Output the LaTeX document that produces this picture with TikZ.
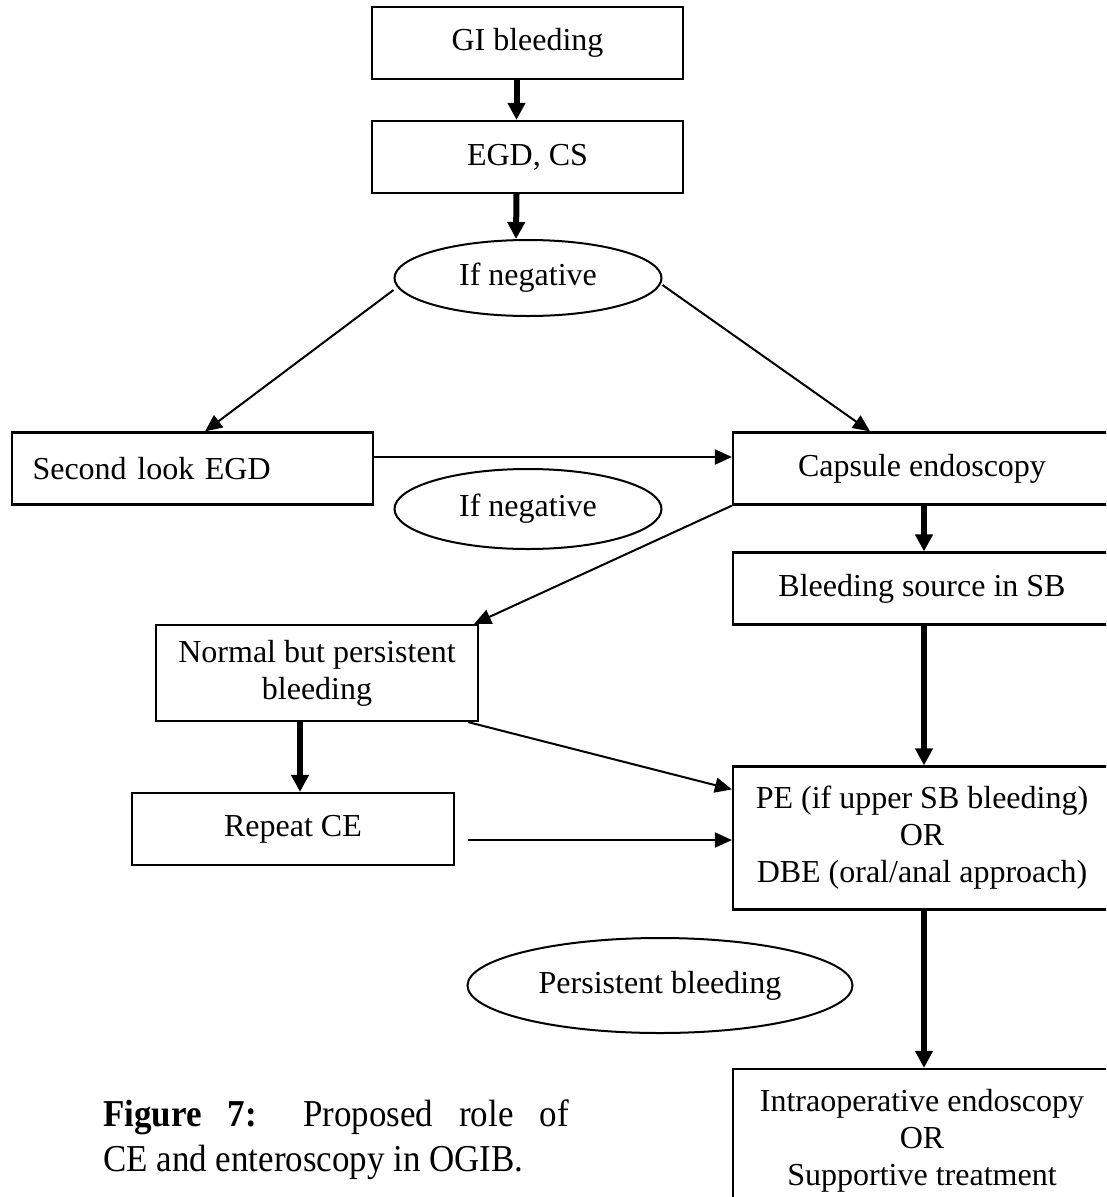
\documentclass[tikz,border=0pt]{standalone}
\usepackage{fontspec}
\setmainfont{Liberation Serif}
\usetikzlibrary{arrows.meta,positioning,calc,shapes.geometric}
\tikzset{
  paso/.style={draw=black, line width=2.2pt, align=center, minimum height=#1, inner sep=0pt, font=\fontsize{32}{37}\selectfont},
  paso/.default=72pt,
  elipse/.style={draw=black, line width=2pt, ellipse, inner sep=0pt, font=\fontsize{32}{37}\selectfont},
  flechagruesa/.style={-{Triangle[length=17pt,width=17pt]}, line width=6pt},
  flechafina/.style={-{Triangle[length=17pt,width=15pt]}, line width=2pt},
}

\begin{document}
\begin{tikzpicture}[x=1pt, y=-1pt]
\useasboundingbox (0,0) rectangle (1106,1197);
\clip (0,0) rectangle (1106,1197);
% cajas
\node[paso, minimum width=311pt] (a) at (527.5,43) {GI bleeding};
\node[paso, minimum width=311pt] (b) at (527.5,157) {EGD, CS};
\node[elipse, minimum width=267pt, minimum height=76pt] (c) at (528,278) {If negative};
\node[paso, minimum width=361pt, text width=320pt, align=left] (d) at (192.5,468.5) {Second look EGD};
\node[paso, minimum width=378pt] (e) at (922,468.5) {Capsule endoscopy};
\node[elipse, minimum width=267pt, minimum height=80pt] (f) at (528,509) {If negative};
\node[paso, minimum width=378pt] (g) at (922,588.5) {Bleeding source in SB};
\node[paso=96pt, minimum width=322pt] (h) at (317,673) {Normal but persistent\\bleeding};
\node[paso, minimum width=322pt] (i) at (293,829) {Repeat CE};
\node[paso=143pt, minimum width=378pt] (j) at (922,838) {PE (if upper SB bleeding)\\OR\\DBE (oral/anal approach)};
\node[elipse, minimum width=385pt, minimum height=95pt] (k) at (660,985.5) {Persistent bleeding};
\node[paso=143pt, minimum width=378pt] (l) at (922,1140.5) {Intraoperative endoscopy\\OR\\Supportive treatment};
\node[anchor=north west, align=left, inner sep=0pt, xscale=0.92, font=\fontsize{38}{45}\selectfont] (m) at (103,1100)
  {\makebox[506pt][s]{\textbf{Figure 7:} Proposed role of}\\CE and enteroscopy in OGIB.};
% flechas
\draw[flechagruesa] ($(a.south)+(-11,0)$) -- ($(b.north)+(-11,0)$);
\draw[flechagruesa] ($(b.south)+(-11,0)$) -- ($(c.north)+(-12,0)$);
\draw[flechafina] ($(c.west)+(0,12)$) -- ($(d.north)+(12.5,0)$);
\draw[flechafina] ($(c.east)+(0,7)$) -- ($(e.north)+(-52,0)$);
\draw[flechafina] ($(d.east)+(0,-11.5)$) -- ($(e.west)+(0,-11.5)$);
\draw[flechafina] (e.south west) -- ($(h.north east)+(-5,0)$);
\draw[flechagruesa] ($(e.south)+(2,0)$) -- ($(g.north)+(2,0)$);
\draw[flechagruesa] ($(g.south)+(2,0)$) -- ($(j.north)+(2,0)$);
\draw[flechagruesa] ($(h.south)+(-17,0)$) -- ($(i.north)+(7,0)$);
\draw[flechafina] ($(h.south east)+(-11,0)$) -- ($(j.north west)+(0,24)$);
\coordinate (n) at (468,840);
\draw[flechafina] (n) -- (n -| j.west);
\draw[flechagruesa] ($(j.south)+(2,0)$) -- ($(l.north)+(2,0)$);
\end{tikzpicture}
\end{document}
